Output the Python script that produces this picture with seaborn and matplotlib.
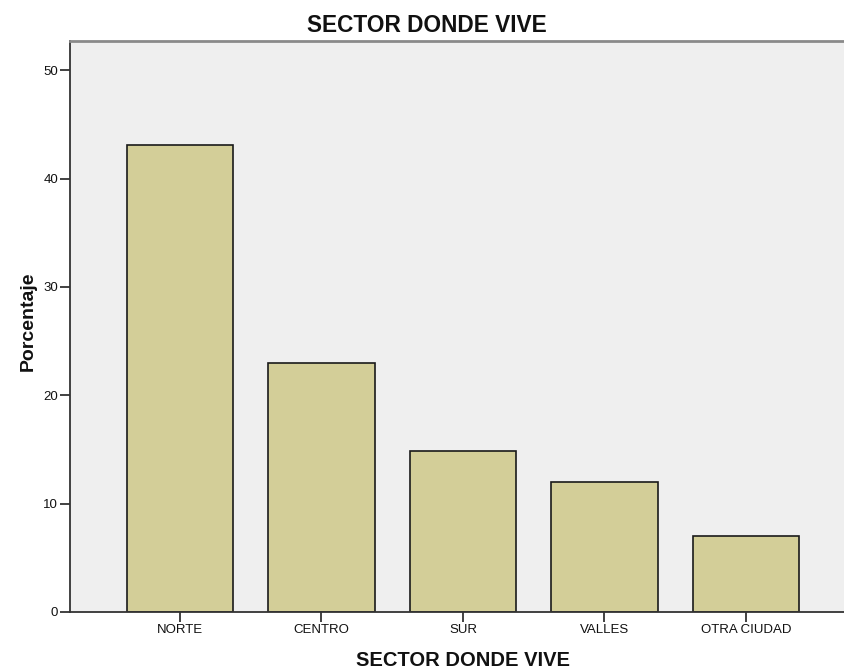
import matplotlib
matplotlib.use("Agg")
import matplotlib.pyplot as plt
import seaborn as sns
import pandas as pd

categories = ["NORTE", "CENTRO", "SUR", "VALLES", "OTRA CIUDAD"]
percentages = [43.1, 23.0, 14.9, 12.0, 7.0]
y_ticks = [0, 10, 20, 30, 40, 50]

sns.set_theme(style="white")
plt.rcParams['font.family'] = ['Liberation Sans', 'DejaVu Sans']

df = pd.DataFrame({"sector": categories, "pct": percentages})

fig = plt.figure(figsize=(8.45, 6.72), dpi=100)
ax = fig.add_axes([70/845, 60/672, 775/845, 571/672])
ax.set_facecolor("#efefef")

sns.barplot(data=df, x="sector", y="pct", order=categories, color="#d3ce98",
            saturation=1, width=0.75, edgecolor="#1a1a1a", linewidth=1.2, ax=ax)

ax.set_ylim(0, 52.7)
ax.set_xlim(-0.777, 4.70)
ax.set_yticks(y_ticks)
ax.set_yticklabels([str(t) for t in y_ticks])

ax.tick_params(axis="both", which="major", direction="out", length=7, width=1.3,
               color="#333333", labelsize=9.5, labelcolor="#111111", pad=1.5,
               left=True, bottom=True)

for s in ["left", "bottom"]:
    ax.spines[s].set_color("#333333")
    ax.spines[s].set_linewidth(1.3)
ax.spines["top"].set_color("#8a8a8a")
ax.spines["top"].set_linewidth(2)
ax.spines["right"].set_visible(False)

ax.set_xlabel("SECTOR DONDE VIVE", fontsize=14.5, fontweight="bold", color="#111111",
              va="baseline")
ax.xaxis.set_label_coords((463 - 70) / 775, (612 - 666) / 571)
ax.set_ylabel("Porcentaje", fontsize=14, fontweight="bold", color="#111111")
ax.yaxis.set_label_coords((37 - 70) / 775, (612 - 321.5) / 571)

fig.text(427/845, 1 - 31.5/672, "SECTOR DONDE VIVE", ha="center", va="baseline",
         fontsize=16.3, fontweight="bold", color="#111111")

fig.savefig("out.png", dpi=100, facecolor="white")
